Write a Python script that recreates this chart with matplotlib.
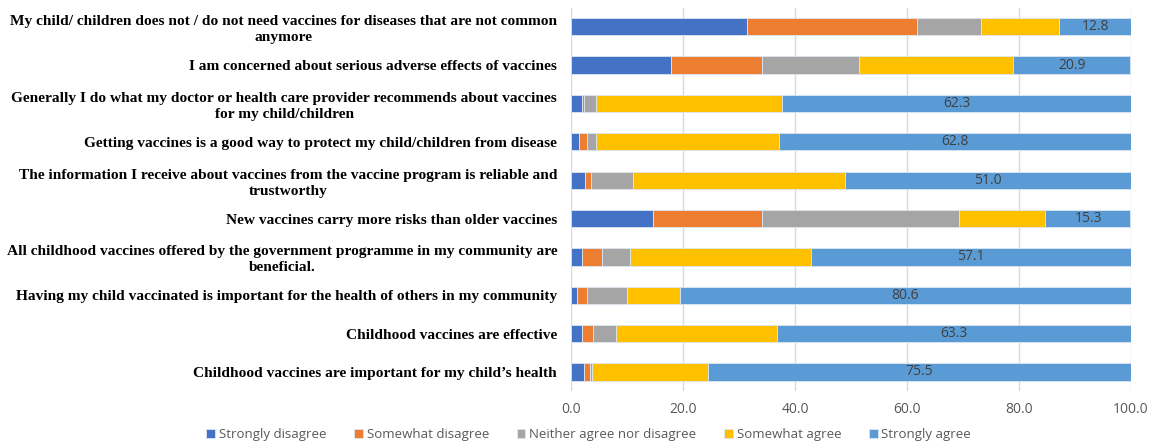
import matplotlib.pyplot as plt
import numpy as np

# statements, listed top to bottom as in the chart
statements = [
    "My child/ children does not / do not need vaccines for diseases that are not common\nanymore",
    "I am concerned about serious adverse effects of vaccines",
    "Generally I do what my doctor or health care provider recommends about vaccines\nfor my child/children",
    "Getting vaccines is a good way to protect my child/children from disease",
    "The information I receive about vaccines from the vaccine program is reliable and\ntrustworthy",
    "New vaccines carry more risks than older vaccines",
    "All childhood vaccines offered by the government programme in my community are\nbeneficial.",
    "Having my child vaccinated is important for the health of others in my community",
    "Childhood vaccines are effective",
    "Childhood vaccines are important for my child\u2019s health",
]

categories = ["Strongly disagree", "Somewhat disagree", "Neither agree nor disagree",
              "Somewhat agree", "Strongly agree"]

strongly_disagree = [31.5, 17.8, 1.9, 1.4, 2.5, 14.7, 1.9, 1.0, 1.9, 2.4]
somewhat_disagree = [30.2, 16.3, 0.5, 1.5, 1.0, 19.4, 3.6, 1.9, 2.0, 1.0]
neither = [11.6, 17.3, 2.0, 1.5, 7.6, 35.2, 5.1, 7.1, 4.2, 0.4]
somewhat_agree = [13.9, 27.6, 33.3, 32.8, 37.9, 15.3, 32.3, 9.4, 28.6, 20.7]
strongly_agree = [12.8, 20.9, 62.3, 62.8, 51.0, 15.3, 57.1, 80.6, 63.3, 75.5]

colors = ["#4472C4", "#ED7D31", "#A5A5A5", "#FFC000", "#5B9BD5"]
#=========================================#
fig = plt.figure(figsize=(11.59, 4.45), dpi=100)
ax = fig.add_axes([0.4927, 0.121, 0.4831, 0.862])

y = np.arange(len(statements))
series = [strongly_disagree, somewhat_disagree, neither, somewhat_agree, strongly_agree]
left = np.zeros(len(statements))
for vals, name, col in zip(series, categories, colors):
    vals = np.array(vals)
    ax.barh(y, vals, left=left, height=0.45, color=col, label=name,
            edgecolor='#dce6f2', linewidth=0.6, zorder=3)
    left = left + vals

# value labels only for "Strongly agree"
for i, v in enumerate(strongly_agree):
    ax.text(100 - v / 2, y[i], "%.1f" % v, ha='center', va='center',
            fontsize=10, color='#404040', family='Open Sans', zorder=4)

ax.set_ylim(len(statements) - 0.5, -0.5)
ax.set_xlim(0, 100)
ax.set_xticks(np.arange(0, 101, 20))
ax.set_xticklabels(["%.1f" % t for t in np.arange(0, 101, 20)],
                   family='Open Sans', fontsize=10, color='#595959')
ax.set_yticks(y)
ax.set_yticklabels(statements, family='Liberation Serif', fontweight='bold',
                   fontsize=11.1, multialignment='center', linespacing=1.3)
ax.tick_params(axis='both', length=0)
ax.tick_params(axis='y', pad=10)
ax.tick_params(axis='x', pad=8)
ax.grid(axis='x', color='#d9d9d9', linewidth=1, zorder=0)
for s in ax.spines.values():
    s.set_visible(False)

fig.legend(loc='lower center', bbox_to_anchor=(0.508, -0.018), ncol=5, frameon=False,
           prop={'family': 'Open Sans', 'size': 9.5}, handlelength=0.65, handleheight=0.65,
           handletextpad=0.3, columnspacing=2.1, labelcolor='#595959')

plt.savefig('out.png', format='png', dpi=100)
